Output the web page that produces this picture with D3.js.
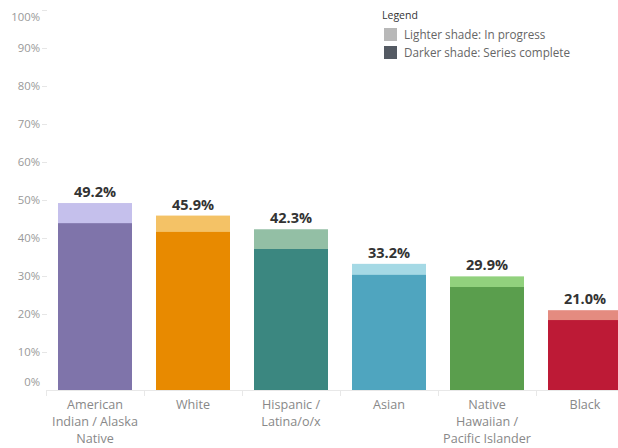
<!DOCTYPE html>
<html>
<head>
<meta charset="utf-8">
<script src="https://cdn.jsdelivr.net/npm/d3@7"></script>
<style>
  body { margin: 0; background: #fff; }
  svg { display: block; font-family: "Open Sans", "Noto Sans", sans-serif; }
</style>
</head>
<body>
<div id="chart"></div>
<script>
// data
const groups = [
    ['American', 'Indian / Alaska', 'Native'],
    ['White'],
    ['Hispanic /', 'Latina/o/x'],
    ['Asian'],
    ['Native', 'Hawaiian /', 'Pacific Islander'],
    ['Black']
];
const totalPct = [49.2, 45.9, 42.3, 33.2, 29.9, 21.0];
const completePct = [43.9, 41.6, 37.1, 30.3, 27.1, 18.4];
const lightColors = ['#c5c0ec', '#f4c266', '#93bfa5', '#a5d9e5', '#91d17d', '#e48b80'];
const darkColors = ['#7f74aa', '#e88a00', '#3b8780', '#4fa5bf', '#5a9e4d', '#bd1a36'];
const yTicks = [0, 10, 20, 30, 40, 50, 60, 70, 80, 90, 100];
const legendItems = ['Lighter shade: In progress', 'Darker shade: Series complete'];
const legendColors = ['#b8b8b8', '#545a63'];

const width = 618;
const height = 448;

const svg = d3.select('#chart').append('svg')
    .attr('width', width)
    .attr('height', height);

const x = d3.scaleBand()
    .domain(d3.range(groups.length))
    .range([46, 634])
    .paddingInner(0.245)
    .paddingOuter(0.1225);

const y = d3.scaleLinear()
    .domain([0, 100])
    .range([390, 10]);

// y axis labels + small ticks
const yAxis = svg.append('g');
yAxis.selectAll('text').data(yTicks).enter().append('text')
    .attr('x', 40)
    .attr('y', function(d) {
        if (d == 100) return y(d) + 7;
        if (d == 0) return y(d) - 8;
        return y(d);
    })
    .attr('dy', '0.35em')
    .attr('text-anchor', 'end')
    .attr('font-size', 11.3)
    .attr('fill', '#999')
    .text(function(d) { return d + '%'; });
yAxis.selectAll('line').data(yTicks.filter(function(d) { return d > 0; })).enter().append('line')
    .attr('x1', 42).attr('x2', 47)
    .attr('y1', function(d) { return y(d) + 0.5; })
    .attr('y2', function(d) { return y(d) + 0.5; })
    .attr('stroke', '#e6e6e6');

// x axis baseline + dividers
svg.append('line')
    .attr('x1', 46).attr('x2', width)
    .attr('y1', 390.5).attr('y2', 390.5)
    .attr('stroke', '#e8e8e8');
svg.selectAll('.divider').data(d3.range(groups.length)).enter().append('line')
    .attr('class', 'divider')
    .attr('x1', function(i) { return x(i) - x.step() * 0.1225 + 0.5; })
    .attr('x2', function(i) { return x(i) - x.step() * 0.1225 + 0.5; })
    .attr('y1', 390).attr('y2', 396)
    .attr('stroke', '#e8e8e8');

const bars = svg.selectAll('.bar').data(totalPct).enter().append('g').classed('bar', true);

bars.append('rect')
    .attr('x', function(d, i) { return x(i); })
    .attr('width', x.bandwidth())
    .attr('y', function(d) { return y(d); })
    .attr('height', function(d) { return y(0) - y(d); })
    .attr('fill', function(d, i) { return lightColors[i]; });

bars.append('rect')
    .attr('x', function(d, i) { return x(i); })
    .attr('width', x.bandwidth())
    .attr('y', function(d, i) { return y(completePct[i]); })
    .attr('height', function(d, i) { return y(0) - y(completePct[i]); })
    .attr('fill', function(d, i) { return darkColors[i]; });

bars.append('text')
    .attr('x', function(d, i) { return x(i) + x.bandwidth() / 2; })
    .attr('y', function(d) { return y(d) - 6; })
    .attr('text-anchor', 'middle')
    .attr('font-size', 14.5)
    .attr('font-weight', 'bold')
    .attr('fill', '#333')
    .text(function(d) { return d.toFixed(1) + '%'; });

// category labels
const labels = svg.selectAll('.cat').data(groups).enter().append('text')
    .classed('cat', true)
    .attr('text-anchor', 'middle')
    .attr('font-size', 12.6)
    .attr('fill', '#888');
labels.each(function(lines, i) {
    d3.select(this).selectAll('tspan').data(lines).enter().append('tspan')
        .attr('x', x(i) + x.bandwidth() / 2)
        .attr('y', function(d, j) { return 408.5 + j * 17; })
        .text(function(d) { return d; });
});

// legend
const legend = svg.append('g').attr('transform', 'translate(382, 0)');
legend.append('text')
    .attr('x', 0).attr('y', 19)
    .attr('font-size', 10.5)
    .attr('fill', '#333')
    .text('Legend');
const items = legend.selectAll('.item').data(legendItems).enter().append('g')
    .attr('transform', function(d, i) { return 'translate(2,' + (28 + i * 18) + ')'; });
items.append('rect')
    .attr('width', 13).attr('height', 13)
    .attr('fill', function(d, i) { return legendColors[i]; });
items.append('text')
    .attr('x', 20).attr('y', 10.5)
    .attr('font-size', 11.7)
    .attr('fill', '#666')
    .text(function(d) { return d; });
</script>
</body>
</html>
